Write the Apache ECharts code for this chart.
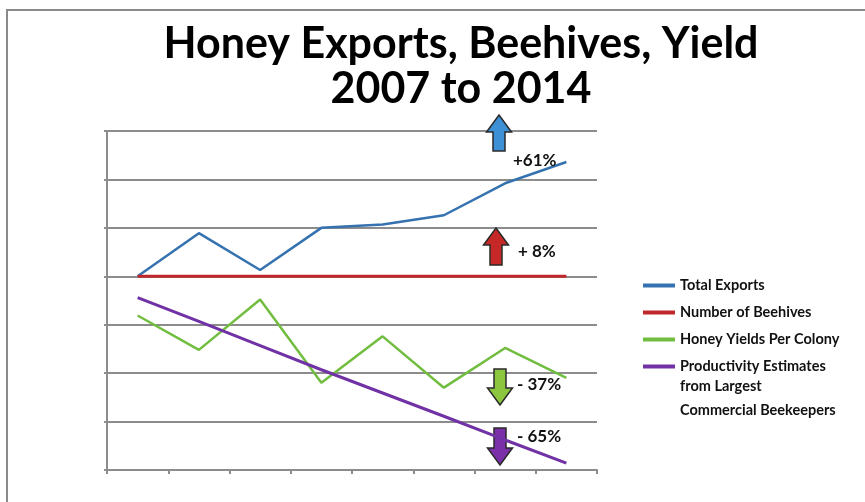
<!DOCTYPE html>
<html>
<head>
<meta charset="utf-8">
<script src="https://cdn.jsdelivr.net/npm/echarts@6/dist/echarts.min.js"></script>
<style>html,body{margin:0;padding:0;background:#fff;}#c{width:865px;height:502px;}</style>
</head>
<body>
<div id="c"></div>
<script>
const years = ['2007','2008','2009','2010','2011','2012','2013','2014'];
const totalExports = [4.0, 4.89, 4.13, 5.0, 5.07, 5.26, 5.92, 6.36];
const beehives = [4.0, 4.0, 4.0, 4.0, 4.0, 4.0, 4.0, 4.0];
const honeyYields = [3.19, 2.48, 3.52, 1.8, 2.76, 1.7, 2.52, 1.9];
const productivity = [3.56, 3.07, 2.57, 2.07, 1.59, 1.11, 0.62, 0.14];
const seriesNames = ['Total Exports', 'Number of Beehives', 'Honey Yields Per Colony', 'Productivity Estimates from Largest Commercial Beekeepers'];
const changeLabels = ['+61%', '+ 8%', '- 37%', '- 65%'];

const chart = echarts.init(document.getElementById('c'));
const colors = ['#3572b0', '#c0272d', '#71bd3f', '#7132a5'];
const arrowFill = ['#3d8fd6', '#c62828', '#8cc63f', '#7b2fa8'];

function arrow(cx, top, bottom, up, fill) {
  const hw = 12.5, sw = 6, hh = 17;
  let pts;
  if (up) {
    pts = [[cx, top], [cx + hw, top + hh], [cx + sw, top + hh], [cx + sw, bottom], [cx - sw, bottom], [cx - sw, top + hh], [cx - hw, top + hh]];
  } else {
    pts = [[cx, bottom], [cx + hw, bottom - hh], [cx + sw, bottom - hh], [cx + sw, top], [cx - sw, top], [cx - sw, bottom - hh], [cx - hw, bottom - hh]];
  }
  return { type: 'polygon', z: 1, shape: { points: pts }, style: { fill: fill, stroke: '#2a2a2a', lineWidth: 1.5 } };
}
function label(x, y, text) {
  return { type: 'text', z: 5, x: x, y: y, style: { text: text, font: 'bold 17px Lato', fill: '#111', textVerticalAlign: 'middle' } };
}

chart.setOption({
  animation: false,
  backgroundColor: '#fff',
  title: {
    text: 'Honey Exports, Beehives, Yield\n2007 to 2014',
    left: 456, top: 17, textAlign: 'center',
    textStyle: { fontFamily: 'Lato', fontWeight: 'bold', fontSize: 43, lineHeight: 45, color: '#000' }
  },
  legend: {
    orient: 'vertical', left: 643, top: 278, padding: 0,
    itemWidth: 32, itemHeight: 4, itemGap: 12, icon: 'rect',
    data: seriesNames,
    formatter: function (n) { return n === seriesNames[3] ? 'Productivity Estimates' : n; },
    textStyle: { fontFamily: 'Lato', fontWeight: 'bold', fontSize: 14.5, lineHeight: 14, color: '#111' }
  },
  grid: { left: 107, right: 268, top: 131, bottom: 32 },
  xAxis: {
    type: 'category', data: years, boundaryGap: true,
    axisLine: { lineStyle: { color: '#8c8c8c', width: 2 } },
    axisTick: { show: true, length: 4, lineStyle: { color: '#8c8c8c', width: 2 } },
    axisLabel: { show: false }
  },
  yAxis: {
    type: 'value', min: 0, max: 7, interval: 1,
    axisLine: { show: true, lineStyle: { color: '#8c8c8c', width: 2 } },
    axisTick: { show: true, length: 3, lineStyle: { color: '#8c8c8c', width: 2 } },
    axisLabel: { show: false },
    splitLine: { lineStyle: { color: '#8c8c8c', width: 2 } }
  },
  series: [
    { name: seriesNames[0], type: 'line', data: totalExports, symbol: 'none', lineStyle: { color: colors[0], width: 2.5 }, itemStyle: { color: colors[0] } },
    { name: seriesNames[1], type: 'line', data: beehives, symbol: 'none', lineStyle: { color: colors[1], width: 3 }, itemStyle: { color: colors[1] } },
    { name: seriesNames[2], type: 'line', data: honeyYields, symbol: 'none', lineStyle: { color: colors[2], width: 2.5 }, itemStyle: { color: colors[2] } },
    { name: seriesNames[3], type: 'line', data: productivity, symbol: 'none', lineStyle: { color: colors[3], width: 3 }, itemStyle: { color: colors[3] } }
  ],
  graphic: [
    { type: 'rect', z: 0, shape: { x: 7, y: 10, width: 900, height: 550 }, style: { fill: 'none', stroke: '#8a8a8a', lineWidth: 2 } },
    arrow(499, 115, 151, true, arrowFill[0]),
    arrow(496, 228, 265, true, arrowFill[1]),
    arrow(500, 369, 405, false, arrowFill[2]),
    arrow(500, 428, 465, false, arrowFill[3]),
    label(513, 161, changeLabels[0]),
    label(518, 252, changeLabels[1]),
    label(517, 385, changeLabels[2]),
    label(517, 437, changeLabels[3]),
    { type: 'text', z: 5, x: 680, y: 386, style: { text: 'from Largest', font: 'bold 14.5px Lato', fill: '#111', textVerticalAlign: 'middle' } },
    { type: 'text', z: 5, x: 680, y: 410, style: { text: 'Commercial Beekeepers', font: 'bold 14.5px Lato', fill: '#111', textVerticalAlign: 'middle' } }
  ]
});
</script>
</body>
</html>
